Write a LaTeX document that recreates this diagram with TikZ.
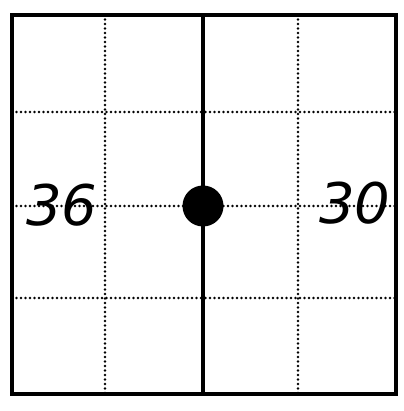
\documentclass[tikz,border=0pt]{standalone}
\usepackage{fontspec}
\newfontfamily\handfont{DejaVu Sans}
\tikzset{
  border/.style={line width=3.5pt},
  dotline/.style={line width=2.6pt, dash pattern=on 0pt off 4.5pt, line cap=round},
  numlabel/.style={font=\handfont\itshape\fontsize{56}{56}\selectfont, inner sep=0pt}
}
\begin{document}
\begin{tikzpicture}[x=1pt,y=1pt]
\useasboundingbox (0,0) rectangle (403,411);
% grid coords: y_tikz = 411 - y_img
\coordinate (tl) at (12,396);
\coordinate (br) at (396,17);
% dotted grid
\draw[dotline] (105,396) -- (105,17);
\draw[dotline] (298,396) -- (298,17);
\draw[dotline] (12,299) -- (396,299);
\draw[dotline] (12,205) -- (396,205);
\draw[dotline] (12,113) -- (396,113);
% center line and border
\draw[border] (203,396) -- (203,17);
\draw[border] (tl) rectangle (br);
% dot
\node[circle, fill=black, minimum size=41pt, inner sep=0pt] (dot) at (203,205) {};
% labels
\node[numlabel] (l36) at (62,206) {36};
\node[numlabel] (l30) at (355,208) {30};
\end{tikzpicture}
\end{document}
